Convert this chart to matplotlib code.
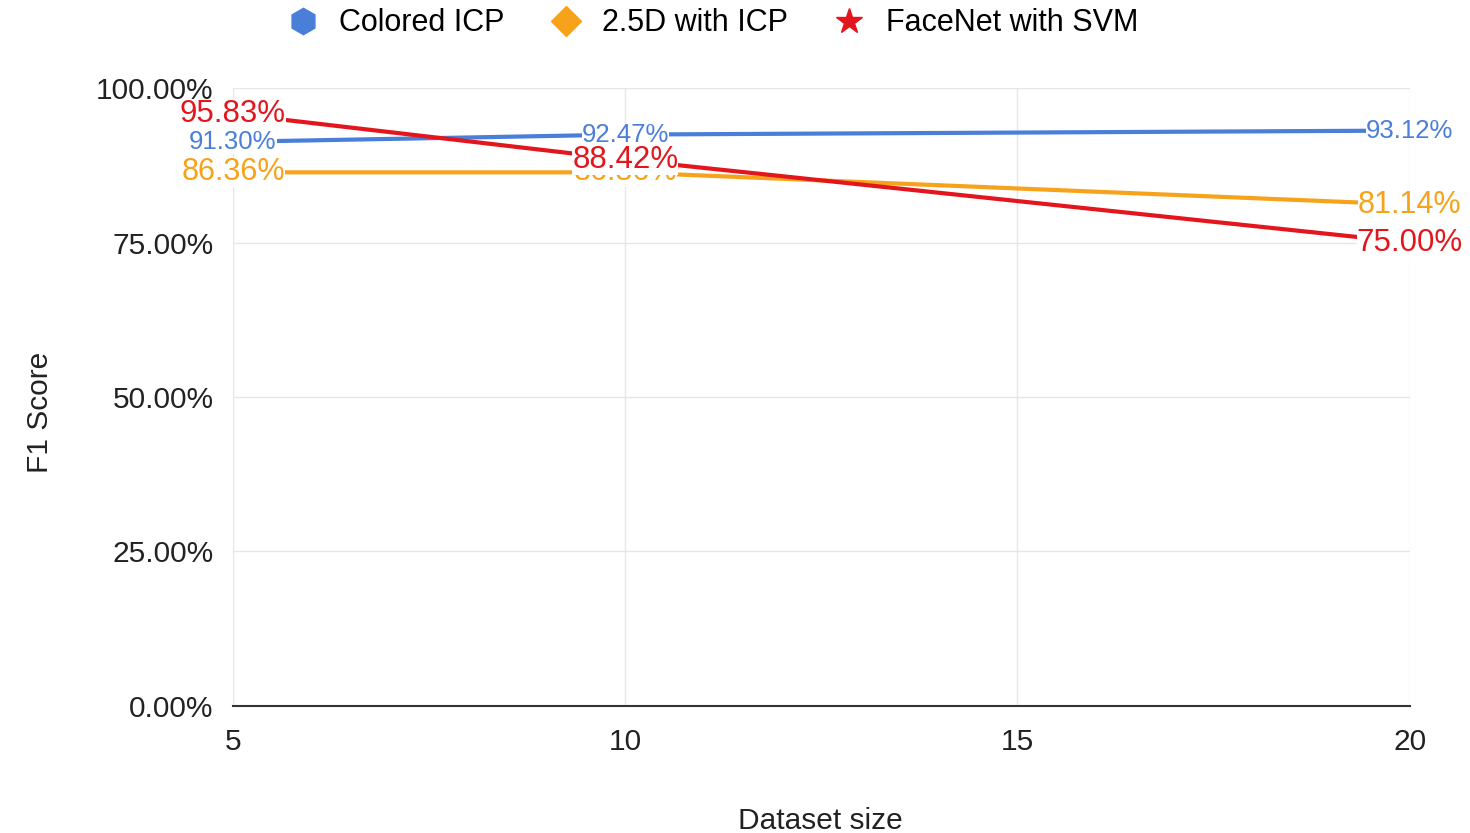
import matplotlib.pyplot as plt
from matplotlib.lines import Line2D
from matplotlib.ticker import FuncFormatter

plt.rcParams['font.family'] = ['Liberation Sans', 'DejaVu Sans']

sizes = [5, 10, 20]
colored_icp = [91.30, 92.47, 93.12]
icp_25d = [86.36, 86.36, 81.14]
facenet_svm = [95.83, 88.42, 75.00]

series = [
    ("Colored ICP", colored_icp, "#4a7fd9", "h", 18.5, 3),
    ("2.5D with ICP", icp_25d, "#f7a21b", "D", 22, 4),
    ("FaceNet with SVM", facenet_svm, "#e3161d", "*", 22.5, 5),
]

fig = plt.figure(figsize=(14.7, 8.33), dpi=100)
ax = fig.add_axes([0.1585, 0.1525, 0.8005, 0.7418])

for name, vals, col, mk, fs, z in series:
    ax.plot(sizes, vals, color=col, lw=3, zorder=z, solid_capstyle='butt')
    for x, v in zip(sizes, vals):
        ax.text(x, v, f"{v:.2f}%", color=col, fontsize=fs, ha='center', va='center',
                zorder=z + 0.5,
                bbox=dict(facecolor='white', edgecolor='none', pad=0.0))

ax.set_xlim(5, 20)
ax.set_ylim(0, 100)
ax.set_xticks([5, 10, 15, 20])
ax.set_yticks([0, 25, 50, 75, 100])
ax.yaxis.set_major_formatter(FuncFormatter(lambda v, p: f"{v:.2f}%"))
ax.tick_params(length=0, labelsize=21.5, colors='#222222', pad=14)
ax.tick_params(axis='x', pad=16)
ax.grid(color='#e6e6e6', lw=1)
ax.set_axisbelow(True)
for s in ['top', 'right', 'left']:
    ax.spines[s].set_visible(False)
ax.spines['bottom'].set_color('#333333')
ax.spines['bottom'].set_linewidth(1.5)

fig.text(0.558, 0.005, "Dataset size", fontsize=21.5, color='#222222', ha='center')
fig.text(0.018, 0.505, "F1 Score", fontsize=21.5, color='#222222', rotation=90, va='center')

handles = [Line2D([], [], ls='none', marker=mk, color=col, markersize=ms)
           for (name, vals, col, mk, fs, z), ms in zip(series, [19, 15, 19])]
fig.legend(handles, [s[0] for s in series], loc='center', bbox_to_anchor=(0.485, 0.972),
           ncol=3, frameon=False, fontsize=22, handletextpad=0.7, columnspacing=1.5,
           handlelength=1.0)

fig.savefig("out.png", dpi=100)
